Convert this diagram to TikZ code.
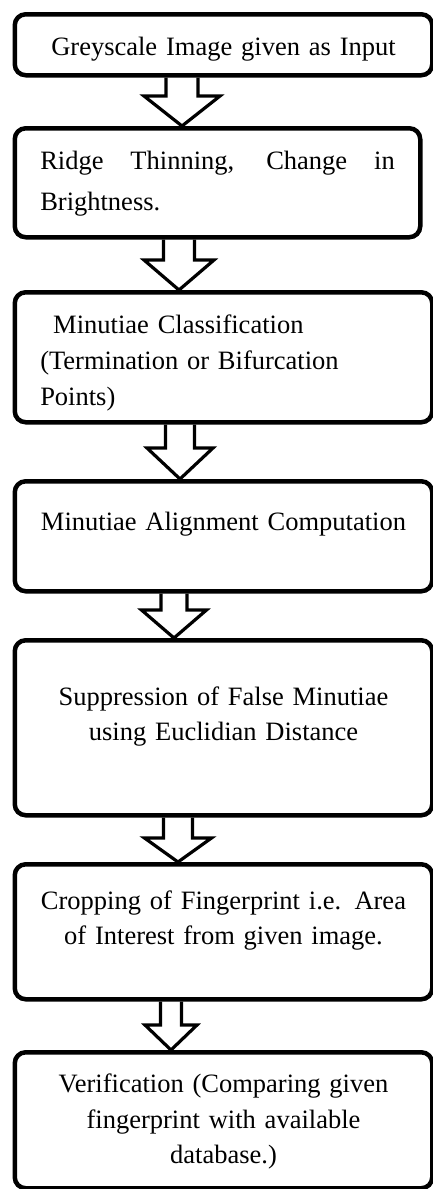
\documentclass[tikz,border=0pt]{standalone}
\usepackage{fontspec}
\setmainfont{Liberation Serif}
\usetikzlibrary{calc}
\tikzset{
  box/.style={draw, line width=4.5pt, rounded corners=11pt, anchor=north west,
    inner xsep=0pt, inner ysep=0pt, align=center, text width=417.5pt,
    font=\fontsize{26.5}{35.5}\selectfont},
  blk/.style={draw, line width=3.2pt, line join=miter}
}
\newcommand{\blkarrow}[6]{%
  \draw[blk] let \p1=(#1.south), \p2=(#2.north) in
    (#3pt-#4pt,\y1) -- (#3pt-#4pt,\y2+#6pt) -- (#3pt-#5pt,\y2+#6pt) -- (#3pt,\y2)
    -- (#3pt+#5pt,\y2+#6pt) -- (#3pt+#4pt,\y2+#6pt) -- (#3pt+#4pt,\y1);}
\begin{document}
\begin{tikzpicture}[x=1pt,y=-1pt]
\useasboundingbox (0,0) rectangle (432,1189);
\node[box, text height=41pt, text depth=20pt] (b1) at (12.5,12) {Greyscale Image given as Input};
\node[box, align=justify, inner xsep=25.5pt, text width=354.5pt, text height=41pt, text depth=68pt,
  font=\fontsize{26.5}{41}\selectfont] (b2) at (12.5,126) {Ridge Thinning, Change in\linebreak Brightness.};
\node[box, align=left, inner xsep=25.5pt, text width=366.5pt, text height=41pt, text depth=89pt,
  font=\fontsize{26.5}{36}\selectfont] (b3) at (12.5,290) {\hspace*{13pt}Minutiae Classification\\(Termination or Bifurcation\\Points)};
\node[box, text height=49pt, text depth=61pt] (b4) at (12.5,479) {Minutiae Alignment Computation};
\node[box, text height=65pt, text depth=110pt] (b5) at (12.5,638) {Suppression of False Minutiae\\using Euclidian Distance};
\node[box, text height=45pt, text depth=90pt] (b6) at (12.5,862) {Cropping of Fingerprint i.e. Area\\of Interest from given image.};
\node[box, text height=40.5pt, text depth=95.5pt] (b7) at (12.5,1050) {Verification (Comparing given\\fingerprint with available\\database.)};
\blkarrow{b1}{b2}{182}{16}{38}{30}
\blkarrow{b2}{b3}{179}{15.5}{35}{30}
\blkarrow{b3}{b4}{180}{14.5}{33}{31}
\blkarrow{b4}{b5}{174}{13}{32.5}{28}
\blkarrow{b5}{b6}{178}{14.5}{33.5}{24}
\blkarrow{b6}{b7}{171}{10.5}{26}{25}
\end{tikzpicture}
\end{document}
